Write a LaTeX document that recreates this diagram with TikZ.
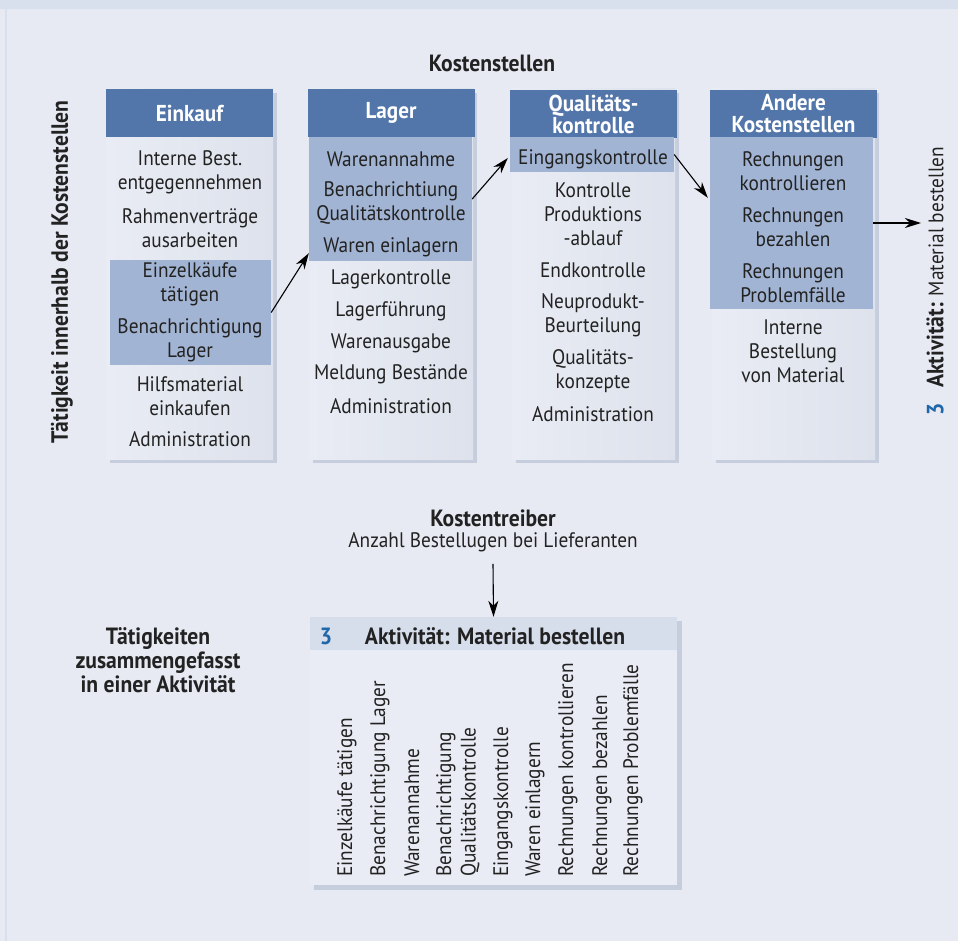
\documentclass[tikz,border=0pt]{standalone}
\usepackage{fontspec}
\setmainfont{PT Sans}[FakeStretch=0.92]
\usetikzlibrary{arrows.meta,calc}
\definecolor{bg}{HTML}{E7EAF3}
\definecolor{band}{HTML}{D8DFED}
\definecolor{colbodyL}{HTML}{E9ECF4}
\definecolor{colbodyR}{HTML}{DDE2EC}
\definecolor{colshadow}{HTML}{C6CDDD}
\definecolor{head}{HTML}{5276AA}
\definecolor{hl}{HTML}{A2B4D3}
\definecolor{ink}{HTML}{222222}
\definecolor{num}{HTML}{1F67A8}
\definecolor{boxhead}{HTML}{D6DDEB}
\begin{document}
\begin{tikzpicture}[x=1pt,y=-1pt,
  every node/.style={inner sep=0pt, text=ink, font=\fontsize{21}{24}\selectfont},
  item/.style={align=center},
  bolditem/.style={align=center, font=\fontsize{23.5}{24}\selectfont\bfseries},
  headbox/.style={fill=head, minimum width=167pt, minimum height=48pt, align=center,
                  text=white, font=\fontsize{23}{22}\selectfont\bfseries},
  hlbox/.style={fill=hl},
  vtext/.style={rotate=90, anchor=west},
  arr/.style={-{Stealth[length=16pt,width=10pt,inset=5pt]}, line width=1.1pt, black}]

% canvas
\useasboundingbox (0,0) rectangle (958,941);
\fill[bg] (0,0) rectangle (958,941);
\fill[band] (0,0) rectangle (958,9);
\fill[band] (5,9) rectangle (7,941);

% cost centre columns: shadow and body
\foreach \xl/\xr in {106/273, 309/473, 512/675, 712/875} {
  \fill[colshadow] (\xl+4,93) rectangle (\xr+4,463);
  \shade[left color=colbodyL, right color=colbodyR] (\xl,89) rectangle (\xr,459);
}

% column headers
\node[headbox] (einkH) at (189.5,113) {Einkauf};
\node[headbox] (lagH)  at (391,113) {Lager};
\node[headbox] (qualH) at (593.5,114) {Qualitäts-\\kontrolle};
\node[headbox] (andH)  at (793.5,114) {Andere\\Kostenstellen};

% highlighted activities
\node[hlbox, minimum width=161pt, minimum height=105pt] (einkHL) at (190.5,312.5) {};
\node[hlbox, minimum width=163pt, minimum height=124pt] (lagHL)  at (390.5,199) {};
\node[hlbox, minimum width=164pt, minimum height=35pt]  (qualHL) at (592,154.5) {};
\node[hlbox, minimum width=163pt, minimum height=172pt] (andHL)  at (791.5,223) {};

% Einkauf
\node[item] (e1) at (190,172) {Interne Best.\\entgegennehmen};
\node[item] (e2) at (190,228) {Rahmenverträge\\ausarbeiten};
\node[item] (e3) at (190,284) {Einzelkäufe\\tätigen};
\node[item] (e4) at (190,340) {Benachrichtigung\\Lager};
\node[item] (e5) at (190,396) {Hilfsmaterial\\einkaufen};
\node[item] (e6) at (190,439) {Administration};

% Lager
\node[item] (l1) at (391,159) {Warenannahme};
\node[item] (l2) at (391,203) {Benachrichtiung\\Qualitätskontrolle};
\node[item] (l3) at (391,247) {Waren einlagern};
\node[item] (l4) at (391,279) {Lagerkontrolle};
\node[item] (l5) at (391,311) {Lagerführung};
\node[item] (l6) at (391,343) {Warenausgabe};
\node[item] (l7) at (391,374) {Meldung Bestände};
\node[item] (l8) at (391,406) {Administration};

% Qualitätskontrolle
\node[item] (q1) at (593,159) {Eingangskontrolle};
\node[item] (q2) at (593,214) {Kontrolle\\Produktions\\-ablauf};
\node[item] (q3) at (593,270) {Endkontrolle};
\node[item] (q4) at (593,315) {Neuprodukt-\\Beurteilung};
\node[item] (q5) at (593,371) {Qualitäts-\\konzepte};
\node[item] (q6) at (593,414) {Administration};

% Andere Kostenstellen
\node[item] (a1) at (793,171) {Rechnungen\\kontrollieren};
\node[item] (a2) at (793,227) {Rechnungen\\bezahlen};
\node[item] (a3) at (793,283) {Rechnungen\\Problemfälle};
\node[item] (a4) at (793,351) {Interne\\Bestellung\\von Material};

% titles and side labels
\node[bolditem] (title) at (492,63) {Kostenstellen};
\node[bolditem, rotate=90] (llabel) at (62,272) {Tätigkeit innerhalb der Kostenstellen};
\node[rotate=90] (rlabel) at (935,281)
  {{\fontsize{23.5}{24}\selectfont\bfseries\color{num}3}\hspace{15pt}{\fontsize{23.5}{24}\selectfont\bfseries Aktivität:} Material bestellen};
\coordinate (rtip) at (921,223);

% flow between the cost centres
\draw[arr] (einkHL.east) -- ($(lagHL.south west)+(0,-8)$);
\draw[arr] (lagHL.east) -- ($(qualHL.west)+(-2,3.5)$);
\draw[arr] (qualHL.east) -- ($(andHL.north west)+(-2,61)$);
\draw[arr] (andHL.east) -- (rtip);

% cost driver
\node[bolditem] (drv) at (493,518) {Kostentreiber};
\node[item] (anz) at (493,542) {Anzahl Bestellugen bei Lieferanten};

% combined activity box
\fill[colshadow] (314,621) rectangle (682,890);
\node[fill=colbodyL, minimum width=367pt, minimum height=268pt] (box) at (493.5,751) {};
\fill[boxhead] (box.north west) rectangle ($(box.north east)+(0,33)$);
\node[font=\fontsize{23.5}{24}\selectfont\bfseries, text=num] (bnum) at (326,636) {3};
\node[bolditem] (btitle) at (495,636) {Aktivität: Material bestellen};

\draw[arr] ($(anz.south)+(0,12)$) -- (box.north);

\node[bolditem] (comb) at (158,660) {Tätigkeiten\\zusammengefasst\\in einer Aktivität};

% activities listed vertically
\foreach \i/\x/\t in {1/347/Einzelkäufe tätigen, 2/380/Benachrichtigung Lager,
    3/412/Warenannahme, 4/446/Benachrichtigung, 5/470/Qualitätskontrolle,
    6/503/Eingangskontrolle, 7/535/Waren einlagern, 8/568/Rechnungen kontrollieren,
    9/602/Rechnungen bezahlen, 10/633/Rechnungen Problemfälle}
  \node[vtext] (v\i) at (\x,877) {\t};
\end{tikzpicture}
\end{document}
